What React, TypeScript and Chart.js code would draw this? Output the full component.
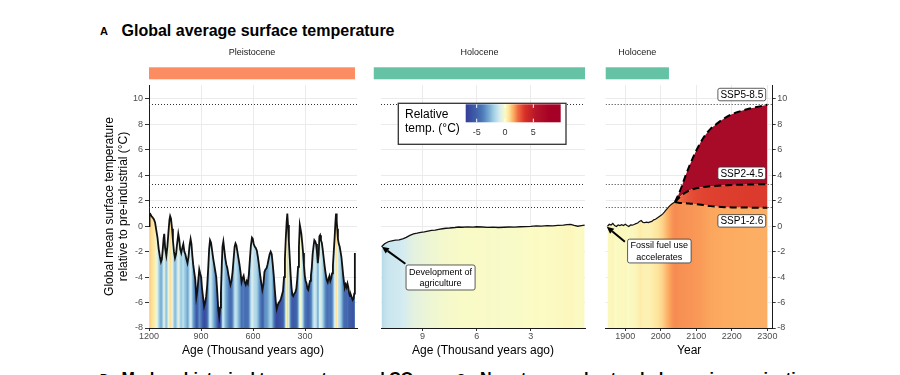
import React, { useEffect, useRef } from 'react';
import { Chart, registerables } from 'chart.js';

Chart.register(...registerables);

const FONT = '"Liberation Sans", Arial, Helvetica, sans-serif';
Chart.defaults.font.family = FONT;

// ---------------- DATA ----------------
// Pleistocene reconstruction (thousand years ago, °C rel. pre-industrial)
const PLEI_AGE = [1200, 1197, 1192, 1186, 1180, 1172, 1165, 1158, 1151, 1144, 1137, 1131, 1126, 1121, 1116, 1112, 1107, 1100, 1094, 1088, 1082, 1078, 1073, 1067, 1062, 1056, 1050, 1044, 1038, 1031, 1026, 1020, 1014, 1008, 1002, 996, 990, 984, 978, 972, 966, 960, 955, 950, 945, 939, 933, 927, 922, 916, 910, 905, 899, 894, 888, 882, 876, 870, 864, 858, 853, 848, 842, 836, 830, 824, 818, 812, 806, 800, 795, 790, 785, 780, 776, 771, 766, 760, 754, 748, 742, 736, 730, 724, 718, 712, 706, 701, 696, 690, 684, 678, 672, 666, 660, 654, 648, 642, 636, 630, 624, 618, 612, 606, 601, 596, 590, 584, 578, 572, 566, 560, 553, 546, 540, 534, 528, 522, 516, 510, 504, 498, 492, 486, 480, 474, 468, 463, 457, 451, 445, 439, 433, 427, 421, 416, 411, 406, 402, 398, 393, 388, 383, 378, 373, 368, 362, 356, 350, 345, 340, 335, 330, 326, 321, 316, 311, 306, 301, 296, 291, 286, 281, 276, 271, 266, 261, 256, 251, 246, 241, 236, 231, 226, 221, 217, 213, 208, 203, 198, 193, 187, 181, 175, 169, 164, 159, 154, 149, 144, 139, 134, 129, 125, 121, 117, 114, 110, 105, 100, 95, 90, 85, 80, 75, 70, 65, 60, 55, 50, 45, 40, 35, 30, 25, 20, 16, 13, 11.7];
const PLEI_TEMP = [0.0, 0.85, 0.95, 0.8, 0.7, 0.55, 0.3, -0.3, -0.9, -1.8, -2.4, -2.8, -2.6, -1.9, -1.0, -0.6, -1.7, -2.3, -1.6, -0.5, 0.5, 0.8, 0.6, -0.2, -1.1, -2.0, -2.5, -2.2, -1.4, -0.6, -1.0, -1.8, -2.1, -1.7, -1.4, -2.0, -2.2, -2.6, -2.9, -2.4, -1.5, -1.0, -1.4, -2.3, -3.0, -3.6, -4.2, -5.6, -5.2, -4.3, -3.4, -3.7, -4.0, -4.9, -5.6, -6.3, -6.0, -5.5, -4.6, -3.2, -1.8, -1.1, -1.3, -1.9, -2.5, -3.0, -3.5, -4.0, -5.2, -6.6, -7.1, -6.4, -5.2, -3.0, -1.6, -1.2, -1.8, -2.5, -3.0, -3.3, -3.8, -4.2, -4.6, -4.3, -3.6, -2.6, -1.6, -1.35, -1.5, -2.0, -2.5, -3.0, -3.6, -4.4, -4.1, -3.9, -4.4, -4.6, -4.3, -4.5, -3.8, -2.6, -1.5, -0.9, -1.0, -1.4, -1.6, -1.7, -1.9, -2.4, -3.0, -3.7, -4.4, -5.0, -4.6, -3.6, -3.4, -3.3, -3.0, -2.6, -2.2, -2.0, -2.2, -3.0, -3.9, -5.0, -6.0, -6.5, -6.2, -6.0, -5.9, -5.7, -5.4, -5.1, -4.0, -2.6, -1.0, 0.3, 1.0, 0.1, -1.2, -2.5, -3.8, -4.8, -5.4, -5.5, -5.3, -5.2, -4.9, -4.2, -3.2, -1.6, 0.1, -0.2, -0.6, -1.3, -2.1, -3.1, -3.9, -4.3, -4.5, -4.9, -5.0, -4.6, -4.3, -3.9, -3.3, -2.2, -1.6, -1.1, -1.2, -1.4, -2.0, -2.9, -2.2, -0.8, -0.7, -1.1, -1.3, -1.8, -2.4, -3.1, -3.7, -4.2, -4.4, -4.1, -3.9, -4.3, -4.1, -3.7, -3.1, -2.0, -0.9, 0.2, 1.0, 0.4, -0.2, -1.0, -1.4, -1.6, -2.0, -2.4, -3.1, -3.8, -4.4, -4.8, -4.6, -4.8, -4.5, -4.8, -5.3, -5.5, -5.4, -5.6, -5.8, -5.7, -5.3, -4.0, -2.1];

// Holocene reconstruction (thousand years ago)
const HOLO_AGE = [11.27, 11.1, 10.9, 10.7, 10.5, 10.3, 10.1, 9.9, 9.7, 9.5, 9.3, 9.1, 8.9, 8.7, 8.5, 8.3, 8.1, 7.9, 7.7, 7.5, 7.2, 7.0, 6.8, 6.5, 6.2, 6.0, 5.7, 5.4, 5.1, 4.8, 4.5, 4.2, 3.9, 3.6, 3.3, 3.0, 2.7, 2.4, 2.1, 1.8, 1.5, 1.2, 1.0, 0.8, 0.6, 0.4, 0.2, 0.02];
const HOLO_TEMP = [-1.62, -1.38, -1.22, -1.15, -1.1, -1.08, -1.0, -0.88, -0.72, -0.6, -0.55, -0.48, -0.44, -0.38, -0.33, -0.3, -0.25, -0.2, -0.16, -0.14, -0.1, -0.06, -0.08, -0.05, -0.07, -0.04, -0.06, -0.09, -0.07, -0.1, -0.08, -0.06, -0.07, -0.04, -0.03, -0.01, 0.02, 0.01, 0.04, 0.03, 0.06, 0.08, 0.12, 0.15, 0.06, 0.0, 0.04, 0.08];

// Instrumental record (year)
const HIST_YEAR = [1850, 1855, 1860, 1865, 1870, 1875, 1880, 1885, 1890, 1895, 1900, 1905, 1910, 1915, 1920, 1925, 1930, 1935, 1940, 1945, 1950, 1955, 1960, 1965, 1970, 1975, 1980, 1985, 1990, 1995, 2000, 2005, 2010, 2015, 2020, 2025, 2030, 2035, 2040];
const HIST_TEMP = [0.0, 0.15, 0.1, 0.22, 0.05, -0.02, 0.1, 0.05, 0.12, 0.06, 0.15, 0.05, -0.02, 0.1, 0.08, 0.14, 0.2, 0.25, 0.38, 0.45, 0.3, 0.28, 0.32, 0.28, 0.34, 0.38, 0.5, 0.55, 0.65, 0.75, 0.85, 0.95, 1.1, 1.28, 1.45, 1.6, 1.72, 1.82, 1.9];

// Scenario projections
const SSP_YEAR = [2040, 2050, 2060, 2070, 2080, 2090, 2100, 2120, 2140, 2160, 2180, 2200, 2225, 2250, 2275, 2300];
const SSP126 = [1.9, 1.85, 1.82, 1.8, 1.78, 1.76, 1.73, 1.66, 1.58, 1.53, 1.5, 1.48, 1.47, 1.46, 1.45, 1.45];
const SSP245 = [1.9, 2.2, 2.48, 2.65, 2.8, 2.9, 2.98, 3.08, 3.14, 3.18, 3.21, 3.24, 3.26, 3.28, 3.29, 3.3];
const SSP585 = [1.9, 2.5, 3.2, 4.0, 4.7, 5.35, 5.95, 6.95, 7.65, 8.1, 8.5, 8.8, 9.05, 9.25, 9.4, 9.55];

// Reference levels (dotted lines)
const REF_LINES = [9.6, 3.3, 1.5];

// Tick values
const Y_TICKS = [-8, -6, -4, -2, 0, 2, 4, 6, 8, 10];
const X1_TICKS = [1200, 900, 600, 300];
const X2_TICKS = [9, 6, 3];
const X3_TICKS = [1900, 2000, 2100, 2200, 2300];
const LEGEND_TICKS = [-5, 0, 5];
const LEGEND_MIN = -6.94;
const LEGEND_MAX = 9.83;

// Geological epochs (bars on top)
const ERAS_1 = [{ name: 'Pleistocene', from: 1200, to: 11.7, color: '#fc8d62' }];
const ERAS_2 = [{ name: 'Holocene', from: 11.7, to: 0, color: '#66c2a5' }];
const ERAS_3 = [{ name: 'Holocene', from: 1845, to: 2023, color: '#66c2a5' }];

// Annotations (data coordinates)
const LABELS_2 = [{ x: 8.0, y: -4.03, lines: ['Development of', 'agriculture'], size: 9, lineH: 11.5, padX: 3, padY: 1 }];
const ARROWS_2 = [{ x0: 9.95, y0: -2.95, x1: 11.25, y1: -1.62 }];
const LABELS_3 = [
  { x: 1996, y: -1.95, lines: ['Fossil fuel use', 'accelerates'], size: 9, lineH: 11.7, padX: 3, padY: 0.2 },
  { x: 2228, y: 10.35, lines: ['SSP5-8.5'], size: 10, lineH: 11.5, padX: 2.5, padY: 0.5 },
  { x: 2228, y: 4.16, lines: ['SSP2-4.5'], size: 10, lineH: 11.5, padX: 2.5, padY: 0.5 },
  { x: 2228, y: 0.42, lines: ['SSP1-2.6'], size: 10, lineH: 11.5, padX: 2.5, padY: 0.5 },
];
const ARROWS_3 = [{ x0: 1899, y0: -1.22, x1: 1848, y1: -0.04 }];

// Diverging temperature colour scale
const CMAP_STOPS: [number, string][] = [
  [-7, '#313d96'], [-6, '#3a50a2'], [-5, '#4062ab'], [-4, '#4d78b8'], [-3, '#6fa3cf'],
  [-2, '#a1cfe4'], [-1, '#d4ebf1'], [0, '#fbfbc4'], [0.7, '#fee39a'], [1.5, '#fcab60'],
  [2.3, '#f06a42'], [3.5, '#d73027'], [5.5, '#b5142a'], [8, '#a50026'],
];
const SSP585_FILL = '#a80b28';

// ---------------- HELPERS ----------------
function hexRgb(h: string) {
  return [parseInt(h.slice(1, 3), 16), parseInt(h.slice(3, 5), 16), parseInt(h.slice(5, 7), 16)];
}
function cmap(v: number): string {
  const s = CMAP_STOPS;
  if (v <= s[0][0]) return s[0][1];
  if (v >= s[s.length - 1][0]) return s[s.length - 1][1];
  for (let i = 0; i < s.length - 1; i++) {
    const a = s[i][0], b = s[i + 1][0];
    if (v >= a && v <= b) {
      const t = (v - a) / (b - a);
      const A = hexRgb(s[i][1]), B = hexRgb(s[i + 1][1]);
      return `rgb(${Math.round(A[0] + (B[0] - A[0]) * t)},${Math.round(A[1] + (B[1] - A[1]) * t)},${Math.round(A[2] + (B[2] - A[2]) * t)})`;
    }
  }
  return s[0][1];
}

function valueFill(xs: number[], ys: number[]) {
  return (c: any) => {
    const chart = c.chart;
    const area = chart.chartArea;
    const xsc = chart.scales && chart.scales.x;
    if (!area || !xsc) return 'rgba(0,0,0,0)';
    const g = chart.ctx.createLinearGradient(area.left, 0, area.right, 0);
    const w = area.right - area.left;
    xs.forEach((x, i) => {
      const t = (xsc.getPixelForValue(x) - area.left) / w;
      if (t >= 0 && t <= 1) g.addColorStop(t, cmap(ys[i]));
    });
    return g;
  };
}

const pts = (xs: number[], ys: number[]) => xs.map((x, i) => ({ x, y: ys[i] }));

function drawArrow(ctx: any, x0: number, y0: number, x1: number, y1: number) {
  const ang = Math.atan2(y1 - y0, x1 - x0);
  const L = 7, W = 3.3;
  const bx = x1 - L * Math.cos(ang), by = y1 - L * Math.sin(ang);
  ctx.save();
  ctx.setLineDash([]);
  ctx.strokeStyle = '#000';
  ctx.lineWidth = 2;
  ctx.beginPath(); ctx.moveTo(x0, y0); ctx.lineTo(bx, by); ctx.stroke();
  ctx.fillStyle = '#000';
  ctx.beginPath();
  ctx.moveTo(x1, y1);
  ctx.lineTo(bx + W * Math.sin(ang), by - W * Math.cos(ang));
  ctx.lineTo(bx - W * Math.sin(ang), by + W * Math.cos(ang));
  ctx.closePath(); ctx.fill();
  ctx.restore();
}

function drawLabel(ctx: any, cx: number, cy: number, l: any) {
  ctx.save();
  ctx.setLineDash([]);
  ctx.font = `${l.size}px ${FONT}`;
  const tw = Math.max(...l.lines.map((s: string) => ctx.measureText(s).width));
  const w = tw + 2 * l.padX, h = l.lines.length * l.lineH + 2 * l.padY;
  const x = cx - w / 2, y = cy - h / 2;
  ctx.beginPath();
  if (ctx.roundRect) ctx.roundRect(x, y, w, h, 2); else ctx.rect(x, y, w, h);
  ctx.fillStyle = '#fff'; ctx.fill();
  ctx.strokeStyle = '#333'; ctx.lineWidth = 0.8; ctx.stroke();
  ctx.fillStyle = '#000'; ctx.textAlign = 'center'; ctx.textBaseline = 'middle';
  l.lines.forEach((s: string, i: number) => ctx.fillText(s, cx, y + l.padY + l.lineH * (i + 0.5) + 0.5));
  ctx.restore();
}

function drawLegend(ctx: any, area: any) {
  const L = area.left, T = area.top;
  ctx.save();
  ctx.setLineDash([]);
  const bx = L + 17.3, by = T + 18.3, bw = 167.7, bh = 41;
  ctx.fillStyle = '#fff'; ctx.fillRect(bx, by, bw, bh);
  ctx.strokeStyle = '#333'; ctx.lineWidth = 1.3; ctx.strokeRect(bx, by, bw, bh);
  ctx.fillStyle = '#000'; ctx.font = `12px ${FONT}`; ctx.textAlign = 'left'; ctx.textBaseline = 'alphabetic';
  ctx.fillText('Relative', L + 24, T + 32.5);
  ctx.fillText('temp. (°C)', L + 24, T + 46.7);
  const gx0 = L + 84.7, gx1 = L + 179.7, gy0 = T + 19.3, gy1 = T + 37.3;
  const g = ctx.createLinearGradient(gx0, 0, gx1, 0);
  for (let i = 0; i <= 60; i++) {
    const v = LEGEND_MIN + (LEGEND_MAX - LEGEND_MIN) * i / 60;
    g.addColorStop(i / 60, cmap(v));
  }
  ctx.fillStyle = g; ctx.fillRect(gx0, gy0, gx1 - gx0, gy1 - gy0);
  ctx.strokeStyle = '#fff'; ctx.lineWidth = 1;
  ctx.fillStyle = '#333'; ctx.font = `9px ${FONT}`; ctx.textAlign = 'center';
  LEGEND_TICKS.forEach((v) => {
    const px = gx0 + (v - LEGEND_MIN) / (LEGEND_MAX - LEGEND_MIN) * (gx1 - gx0);
    ctx.beginPath(); ctx.moveTo(px, gy0); ctx.lineTo(px, gy0 + 3.6); ctx.moveTo(px, gy1 - 3.6); ctx.lineTo(px, gy1); ctx.stroke();
    ctx.fillText(String(v), px, T + 50);
  });
  ctx.restore();
}

function makeOverlay(id: string, eras: any[], labels: any[], arrows: any[], legend: boolean) {
  return {
    id,
    beforeDatasetsDraw(chart: any) {
      const { ctx, chartArea: a, scales } = chart;
      ctx.save();
      ctx.beginPath(); ctx.rect(a.left, a.top, a.right - a.left, a.bottom - a.top); ctx.clip();
      ctx.strokeStyle = '#333'; ctx.lineWidth = 1; ctx.setLineDash([1, 2]);
      REF_LINES.forEach((v) => {
        const py = Math.round(scales.y.getPixelForValue(v)) + 0.5;
        ctx.beginPath(); ctx.moveTo(a.left, py); ctx.lineTo(a.right, py); ctx.stroke();
      });
      ctx.restore();
    },
    afterDatasetsDraw(chart: any) {
      const { ctx, chartArea, scales } = chart;
      arrows.forEach((ar) => drawArrow(ctx, scales.x.getPixelForValue(ar.x0), scales.y.getPixelForValue(ar.y0), scales.x.getPixelForValue(ar.x1), scales.y.getPixelForValue(ar.y1)));
      labels.forEach((l) => drawLabel(ctx, scales.x.getPixelForValue(l.x), scales.y.getPixelForValue(l.y), l));
      if (legend) drawLegend(ctx, chartArea);
    },
    afterDraw(chart: any) {
      const { ctx, chartArea: a, scales } = chart;
      ctx.save();
      eras.forEach((e) => {
        const x0 = scales.x.getPixelForValue(e.from), x1 = scales.x.getPixelForValue(e.to);
        const l = Math.min(x0, x1), r = Math.max(x0, x1);
        ctx.fillStyle = e.color;
        ctx.fillRect(l, a.top - 17.7, r - l, 12);
        ctx.fillStyle = '#1a1a1a'; ctx.font = `9px ${FONT}`; ctx.textAlign = 'center'; ctx.textBaseline = 'middle';
        ctx.fillText(e.name, (l + r) / 2, a.top - 32);
      });
      ctx.restore();
    },
  };
}

const TICK_COLOR = '#4d4d4d';
const AXIS_COLOR = '#1a1a1a';
const GRID_COLOR = '#ebebeb';
const X_AXIS_H = 30.2;
const TOP = 85;
const BOTTOM_PAD = 375 - 328 - X_AXIS_H;

function xAxis(min: number, max: number, reverse: boolean, ticks: number[], title: string) {
  return {
    type: 'linear', min, max, reverse,
    afterBuildTicks: (s: any) => { s.ticks = ticks.map((v) => ({ value: v })); },
    afterFit: (s: any) => { s.height = X_AXIS_H; },
    grid: { color: GRID_COLOR, lineWidth: 1, tickColor: '#333', tickLength: 3 },
    border: { display: true, color: AXIS_COLOR, width: 1 },
    ticks: { color: TICK_COLOR, font: { size: 9 }, padding: 0.5, maxRotation: 0, autoSkip: false, callback: (v: any) => String(v) },
    title: { display: true, text: title, color: '#000', font: { size: 12, lineHeight: 1.2 }, padding: 0 },
  };
}

const yRange = { min: -8, max: 11.1 };
const yTicksFn = (s: any) => { s.ticks = Y_TICKS.map((v) => ({ value: v })); };

const baseOptions = (padding: any, scales: any) => ({
  responsive: false,
  animation: false,
  events: [],
  layout: { padding },
  plugins: { legend: { display: false }, tooltip: { enabled: false } },
  scales,
});

function buildPanel1(canvas: HTMLCanvasElement) {
  return new Chart(canvas, {
    type: 'line',
    data: {
      datasets: [{
        data: pts(PLEI_AGE, PLEI_TEMP),
        borderColor: '#111', borderWidth: 1.8, pointRadius: 0, tension: 0,
        fill: 'start', backgroundColor: valueFill(PLEI_AGE, PLEI_TEMP),
      }],
    },
    options: baseOptions({ left: 103, right: 543, top: TOP, bottom: BOTTOM_PAD }, {
      x: xAxis(0, 1200, true, X1_TICKS, 'Age (Thousand years ago)'),
      y: {
        type: 'linear', ...yRange, position: 'left',
        afterBuildTicks: yTicksFn,
        afterFit: (s: any) => { s.width = 46; },
        grid: { color: GRID_COLOR, lineWidth: 1, tickColor: '#333', tickLength: 4 },
        border: { display: true, color: AXIS_COLOR, width: 1 },
        ticks: { color: TICK_COLOR, font: { size: 9 }, padding: 2, callback: (v: any) => String(v) },
        title: { display: true, text: ['Global mean surface temperature', 'relative to pre-industrial (°C)'], color: '#000', font: { size: 12, lineHeight: 1.15 }, padding: 0 },
      },
    }) as any,
    plugins: [makeOverlay('ov1', ERAS_1, [], [], false)],
  } as any);
}

function buildPanel2(canvas: HTMLCanvasElement) {
  return new Chart(canvas, {
    type: 'line',
    data: {
      datasets: [{
        data: pts(HOLO_AGE, HOLO_TEMP),
        borderColor: '#111', borderWidth: 1.3, pointRadius: 0, tension: 0,
        fill: 'start', backgroundColor: valueFill(HOLO_AGE, HOLO_TEMP),
      }],
    },
    options: baseOptions({ left: 381, right: 315, top: TOP, bottom: BOTTOM_PAD }, {
      x: xAxis(0, 11.3, true, X2_TICKS, 'Age (Thousand years ago)'),
      y: {
        type: 'linear', ...yRange, position: 'left',
        afterBuildTicks: yTicksFn,
        afterFit: (s: any) => { s.width = 0; },
        grid: { color: GRID_COLOR, lineWidth: 1, drawTicks: false },
        border: { display: false },
        ticks: { display: false },
      },
    }) as any,
    plugins: [makeOverlay('ov2', ERAS_2, LABELS_2, ARROWS_2, true)],
  } as any);
}

function buildPanel3(canvas: HTMLCanvasElement) {
  const dash = { borderColor: '#000', borderWidth: 2, borderDash: [7, 4], pointRadius: 0, cubicInterpolationMode: 'monotone' };
  return new Chart(canvas, {
    type: 'line',
    data: {
      datasets: [
        { data: pts(HIST_YEAR, HIST_TEMP), borderColor: '#111', borderWidth: 1.2, pointRadius: 0, tension: 0, fill: 'start', backgroundColor: valueFill(HIST_YEAR, HIST_TEMP) },
        { ...dash, data: pts(SSP_YEAR, SSP126), fill: 'start', backgroundColor: valueFill(SSP_YEAR, SSP126) },
        { ...dash, data: pts(SSP_YEAR, SSP245), fill: '-1', backgroundColor: valueFill(SSP_YEAR, SSP245) },
        { ...dash, data: pts(SSP_YEAR, SSP585), fill: '-1', backgroundColor: SSP585_FILL },
      ],
    },
    options: baseOptions({ left: 605.7, right: 107.3, top: TOP, bottom: BOTTOM_PAD }, {
      x: xAxis(1845, 2315, false, X3_TICKS, 'Year'),
      y: {
        type: 'linear', ...yRange, position: 'right',
        afterBuildTicks: yTicksFn,
        afterFit: (s: any) => { s.width = 20; },
        grid: { color: GRID_COLOR, lineWidth: 1, tickColor: '#333', tickLength: 3 },
        border: { display: true, color: AXIS_COLOR, width: 1 },
        ticks: { color: TICK_COLOR, font: { size: 9 }, padding: 1.5, callback: (v: any) => String(v) },
      },
    }) as any,
    plugins: [makeOverlay('ov3', ERAS_3, LABELS_3, ARROWS_3, false)],
  } as any);
}

const canvasStyle: React.CSSProperties = { position: 'absolute', left: 0, top: 0, width: 900, height: 375 };

export default function App() {
  const r1 = useRef<HTMLCanvasElement>(null);
  const r2 = useRef<HTMLCanvasElement>(null);
  const r3 = useRef<HTMLCanvasElement>(null);

  useEffect(() => {
    const charts = [buildPanel1(r1.current!), buildPanel2(r2.current!), buildPanel3(r3.current!)];
    return () => charts.forEach((c) => c.destroy());
  }, []);

  const bold = (size: number): React.CSSProperties => ({ position: 'absolute', fontFamily: FONT, fontWeight: 700, fontSize: size, whiteSpace: 'nowrap', color: '#000' });

  return (
    <div style={{ position: 'fixed', left: 0, top: 0, width: 900, height: 375, background: '#fff', overflow: 'hidden' }}>
      <div style={{ ...bold(11), left: 100, top: 24.7, lineHeight: '13px' }}>A</div>
      <div style={{ ...bold(16), left: 121.5, top: 20.5, lineHeight: '20px' }}>Global average surface temperature</div>
      <div style={{ ...bold(11), left: 100, top: 372, lineHeight: '13px' }}>B</div>
      <div style={{ ...bold(16), left: 121.5, top: 369, lineHeight: '20px' }}>Modern historical temperature and CO₂</div>
      <div style={{ ...bold(11), left: 457, top: 372, lineHeight: '13px' }}>C</div>
      <div style={{ ...bold(16), left: 480, top: 369, lineHeight: '20px' }}>Near-term and extended warming projections</div>
      <canvas ref={r1} width={900} height={375} style={canvasStyle} />
      <canvas ref={r2} width={900} height={375} style={canvasStyle} />
      <canvas ref={r3} width={900} height={375} style={canvasStyle} />
    </div>
  );
}
